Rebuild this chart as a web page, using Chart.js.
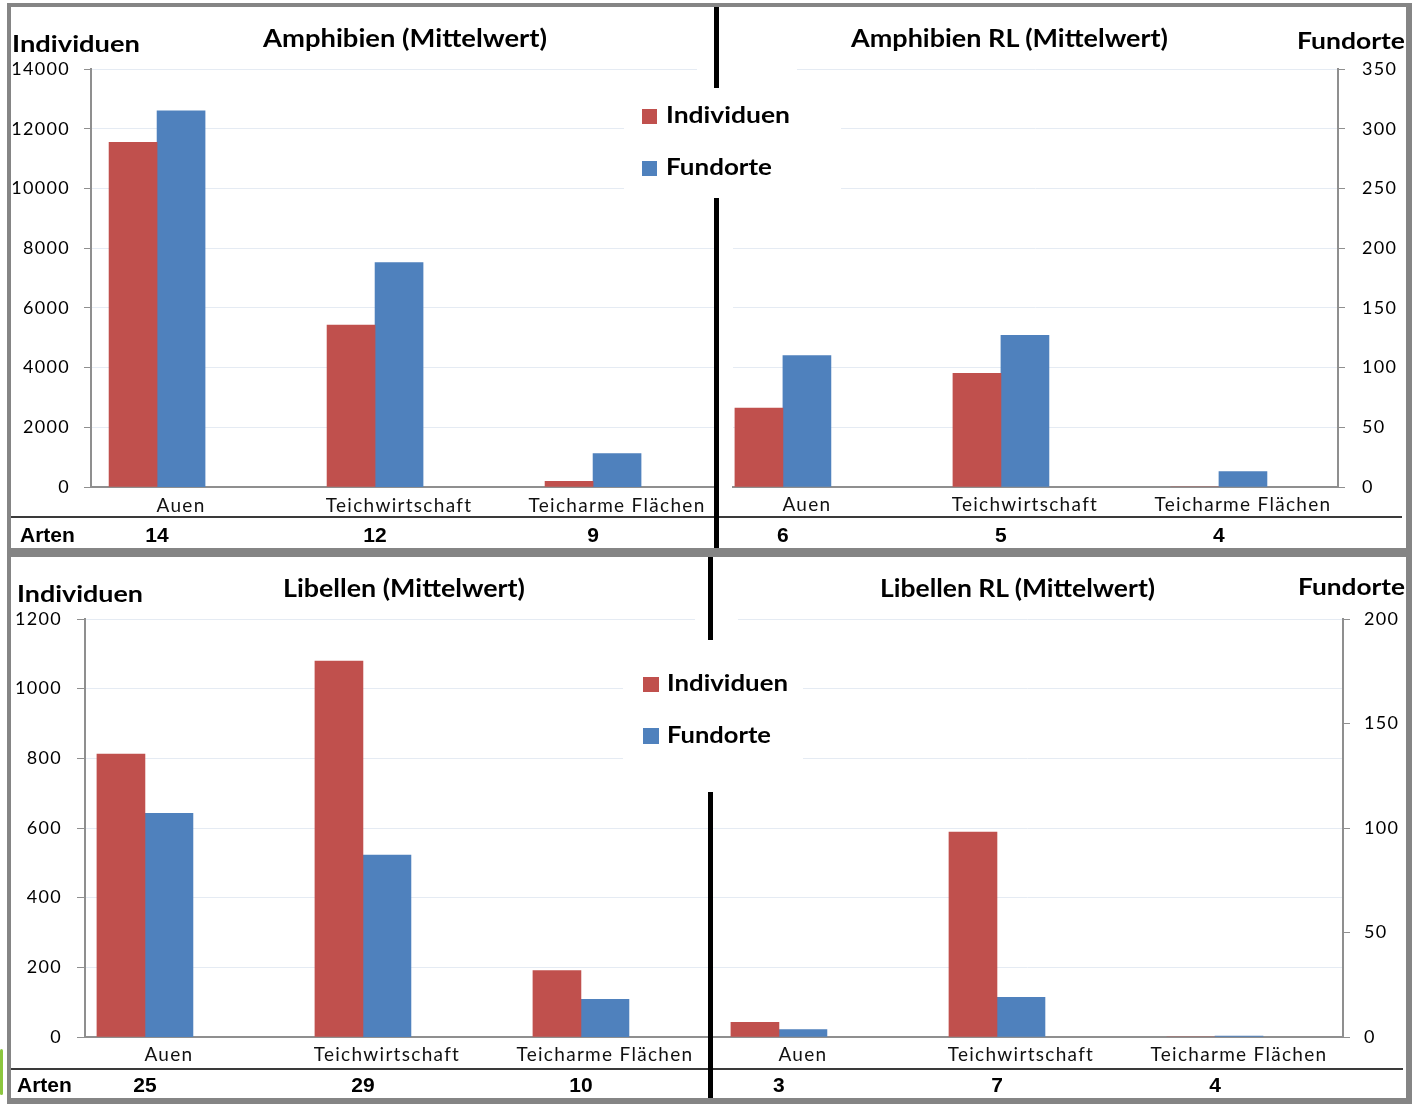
<!DOCTYPE html>
<html lang="de">
<head>
<meta charset="utf-8">
<title>Amphibien und Libellen</title>
<script src="https://cdn.jsdelivr.net/npm/chart.js@4.4.1/dist/chart.umd.min.js"></script>
<style>
html,body{margin:0;padding:0;background:#fff;}
body{position:relative;width:1412px;height:1104px;overflow:hidden;font-family:Lato,sans-serif;}
.frame{position:absolute;box-sizing:border-box;border-style:solid;border-color:#858585;}
.cv{position:absolute;}
.white{position:absolute;background:#fff;}
.divider{position:absolute;background:#000;}
.t{position:absolute;white-space:nowrap;color:#000;font-family:Lato,sans-serif;transform-origin:0 0;}
.sw{position:absolute;}
</style>
</head>
<body>
<div class="frame" style="left:7px;top:3px;width:1405px;height:549px;border-width:4px 6px 4px 4px;"></div>
<div class="frame" style="left:7px;top:552px;width:1405px;height:552px;border-width:5px 6px 6px 4px;"></div>
<div style="position:absolute;left:0;top:1049px;width:3px;height:46px;background:#8cc63f;border-radius:2px;"></div>

<div class="cv" style="left:11px;top:7px;width:705px;height:541px;"><canvas id="c1"></canvas></div>
<div class="cv" style="left:716px;top:7px;width:690px;height:541px;"><canvas id="c2"></canvas></div>
<div class="cv" style="left:11px;top:557px;width:699px;height:541px;"><canvas id="c3"></canvas></div>
<div class="cv" style="left:710px;top:557px;width:696px;height:541px;"><canvas id="c4"></canvas></div>

<!-- white boxes (legend background etc.) -->
<div class="white" style="left:697px;top:64px;width:100px;height:10px;"></div>
<div class="white" style="left:624px;top:88px;width:217px;height:110px;"></div>
<div class="white" style="left:695px;top:614px;width:43px;height:10px;"></div>
<div class="white" style="left:623px;top:640px;width:180px;height:152px;"></div>

<!-- vertical dividers -->
<div class="divider" style="left:714px;top:7px;width:5px;height:81px;"></div>
<div class="divider" style="left:714px;top:198px;width:5px;height:350px;"></div>
<div class="divider" style="left:708px;top:557px;width:5px;height:83px;"></div>
<div class="divider" style="left:708px;top:792px;width:5px;height:306px;"></div>

<!-- legend swatches -->
<div class="sw" style="left:642px;top:109px;width:15px;height:15px;background:#C0504D;"></div>
<div class="sw" style="left:642px;top:161px;width:15px;height:15px;background:#4F81BD;"></div>
<div class="sw" style="left:643px;top:677px;width:16px;height:15px;background:#C0504D;"></div>
<div class="sw" style="left:643px;top:728px;width:16px;height:16px;background:#4F81BD;"></div>

<script>
// ---------------- data ----------------
const categories = ['Auen', 'Teichwirtschaft', 'Teicharme Flächen'];

// Amphibien (Mittelwert)
const amphIndividuen = [11540, 5420, 190];
const amphFundorte   = [315, 188, 28];
const amphArten      = [14, 12, 9];
// Amphibien RL (Mittelwert)
const amphRLIndividuen = [2640, 3810, 0];
const amphRLFundorte   = [110, 127, 13];
const amphRLArten      = [6, 5, 4];

// Libellen (Mittelwert)
const libIndividuen = [812, 1079, 191];
const libFundorte   = [107, 87, 18];
const libArten      = [25, 29, 10];
// Libellen RL (Mittelwert)
const libRLIndividuen = [42, 588, 0];
const libRLFundorte   = [3.5, 19, 0.5];
const libRLArten      = [3, 7, 4];

// axis tick settings
const amphIndivTicks = {max: 14000, step: 2000};
const amphFundTicks  = {max: 350, step: 50};
const libIndivTicks  = {max: 1200, step: 200};
const libFundTicks   = {max: 200, step: 50};

// ---------------- styles ----------------
const RED = '#C0504D', BLUE = '#4F81BD';
const GRID = '#e5ebf3', AXIS = '#8f8f8f';

const spacingPlugin = {
  id: 'spacing',
  beforeDraw(chart) { chart.ctx.letterSpacing = '1.3px'; }
};

const artenPlugin = {
  id: 'artenRow',
  afterDraw(chart, args, o) {
    const {ctx, chartArea, scales} = chart;
    ctx.save();
    ctx.letterSpacing = '0px';
    const ly = chartArea.bottom + o.lineGap;
    ctx.strokeStyle = '#3a3a3a';
    ctx.lineWidth = 2;
    ctx.beginPath();
    ctx.moveTo(0, ly);
    ctx.lineTo(o.lineEnd || chart.width, ly);
    ctx.stroke();
    ctx.fillStyle = '#000';
    ctx.font = 'bold 21px "Liberation Sans", Arial, sans-serif';
    ctx.textBaseline = 'alphabetic';
    const by = chartArea.bottom + o.textGap;
    if (o.label) {
      ctx.textAlign = 'left';
      ctx.fillText(o.label, o.labelX, by);
    }
    ctx.textAlign = 'center';
    o.values.forEach((v, i) => ctx.fillText(String(v), scales.x.getPixelForValue(i), by));
    ctx.restore();
  }
};

function makeChart(id, indiv, fund, arten, c) {
  const left = c.side === 'left';
  const yScale = {
    position: 'left', min: 0, max: c.yT.max,
    afterFit: s => { s.width = left ? c.axisW : 0; },
    ticks: {
      display: left, stepSize: c.yT.step, padding: c.tickPad,
      font: {family: 'Lato', size: 18}, color: '#000',
      callback: v => String(v)
    },
    grid: {color: GRID, lineWidth: 1, drawTicks: left, tickLength: c.tickLen, tickColor: AXIS},
    border: {display: left, color: AXIS, width: 2}
  };
  const y1Scale = {
    position: 'right', min: 0, max: c.y1T.max,
    display: !left,
    afterFit: s => { s.width = left ? 0 : c.axisW; },
    ticks: {
      stepSize: c.y1T.step, padding: c.tickPad,
      font: {family: 'Lato', size: 18}, color: '#000',
      callback: v => String(v)
    },
    grid: {drawOnChartArea: false, drawTicks: true, tickLength: c.tickLen, tickColor: AXIS},
    border: {color: AXIS, width: 2}
  };
  return new Chart(document.getElementById(id), {
    type: 'bar',
    data: {
      datasets: [
        {label: 'Individuen', data: indiv.map((v, i) => ({x: i, y: v})),
         backgroundColor: RED, yAxisID: 'y', barThickness: 48},
        {label: 'Fundorte', data: fund.map((v, i) => ({x: i, y: v})),
         backgroundColor: BLUE, yAxisID: 'y1', barThickness: 48}
      ]
    },
    options: {
      responsive: true, maintainAspectRatio: false, animation: false,
      layout: {padding: c.padding},
      plugins: {
        legend: {display: false}, tooltip: {enabled: false},
        artenRow: {values: arten, label: c.artenLabel, labelX: c.artenX,
                   lineGap: c.lineGap, textGap: 55, lineEnd: c.lineEnd}
      },
      scales: {
        x: {
          type: 'linear', min: c.xMin, max: c.xMax, offset: false, bounds: 'data',
          afterBuildTicks: s => { s.ticks = categories.map((_, i) => ({value: i})); },
          afterFit: s => { s.height = 30; },
          grid: {display: false, offset: false},
          border: {color: AXIS, width: 2},
          ticks: {
            callback: v => categories[v], labelOffset: 24, padding: c.xPad,
            font: {family: 'Lato', size: 19}, color: '#111',
            maxRotation: 0, autoSkip: false
          }
        },
        y: yScale,
        y1: y1Scale
      }
    },
    plugins: [spacingPlugin, artenPlugin]
  });
}

makeChart('c1', amphIndividuen, amphFundorte, amphArten, {
  side: 'left', xMin: -0.303, xMax: 2.564, yT: amphIndivTicks, y1T: amphFundTicks,
  axisW: 80, tickPad: 14, tickLen: 7, xPad: -1,
  padding: {top: 62, left: 0, right: 0, bottom: 31},
  artenLabel: 'Arten', artenX: 9, lineGap: 30
});
makeChart('c2', amphRLIndividuen, amphRLFundorte, amphRLArten, {
  side: 'right', xMin: -0.229, xMax: 2.546, yT: amphIndivTicks, y1T: amphFundTicks,
  axisW: 68, tickPad: 17, tickLen: 7, xPad: -2,
  padding: {top: 62, left: 17, right: 0, bottom: 31},
  lineGap: 30, lineEnd: 686
});
makeChart('c3', libIndividuen, libFundorte, libArten, {
  side: 'left', xMin: -0.275, xMax: 2.592, yT: libIndivTicks, y1T: libFundTicks,
  axisW: 74, tickPad: 15, tickLen: 8, xPad: -2,
  padding: {top: 62, left: 0, right: 0, bottom: 31},
  artenLabel: 'Arten', artenX: 6, lineGap: 32
});
makeChart('c4', libRLIndividuen, libRLFundorte, libRLArten, {
  side: 'right', xMin: -0.307, xMax: 2.587, yT: libIndivTicks, y1T: libFundTicks,
  axisW: 63, tickPad: 14, tickLen: 7, xPad: -2,
  padding: {top: 62, left: 2, right: 0, bottom: 31},
  lineGap: 32, lineEnd: 693
});

// ---------------- texts (titles, axis titles, legend) ----------------
function placeText(txt, left, baseline, size, width) {
  const el = document.createElement('div');
  el.className = 't';
  el.textContent = txt;
  el.style.fontWeight = '700';
  el.style.fontSize = size + 'px';
  el.style.lineHeight = size + 'px';
  el.style.left = left + 'px';
  el.style.top = (baseline - 0.887 * size) + 'px';
  document.body.appendChild(el);
  const w = el.getBoundingClientRect().width;
  if (w > 0) el.style.transform = 'scaleX(' + (width / w) + ')';
}
// top panel
placeText('Individuen', 12, 52, 23, 128);
placeText('Amphibien (Mittelwert)', 263, 47, 24, 284);
placeText('Amphibien RL (Mittelwert)', 851, 47, 24, 317);
placeText('Fundorte', 1297, 49, 23, 108);
placeText('Individuen', 666, 124, 22, 124);
placeText('Fundorte', 666, 176, 22, 106);
// bottom panel
placeText('Individuen', 17, 602, 23, 126);
placeText('Libellen (Mittelwert)', 283, 597, 24, 242);
placeText('Libellen RL (Mittelwert)', 880, 597, 24, 275);
placeText('Fundorte', 1298, 595, 23, 107);
placeText('Individuen', 667, 692, 22, 121);
placeText('Fundorte', 667, 744, 22, 104);
</script>
</body>
</html>
